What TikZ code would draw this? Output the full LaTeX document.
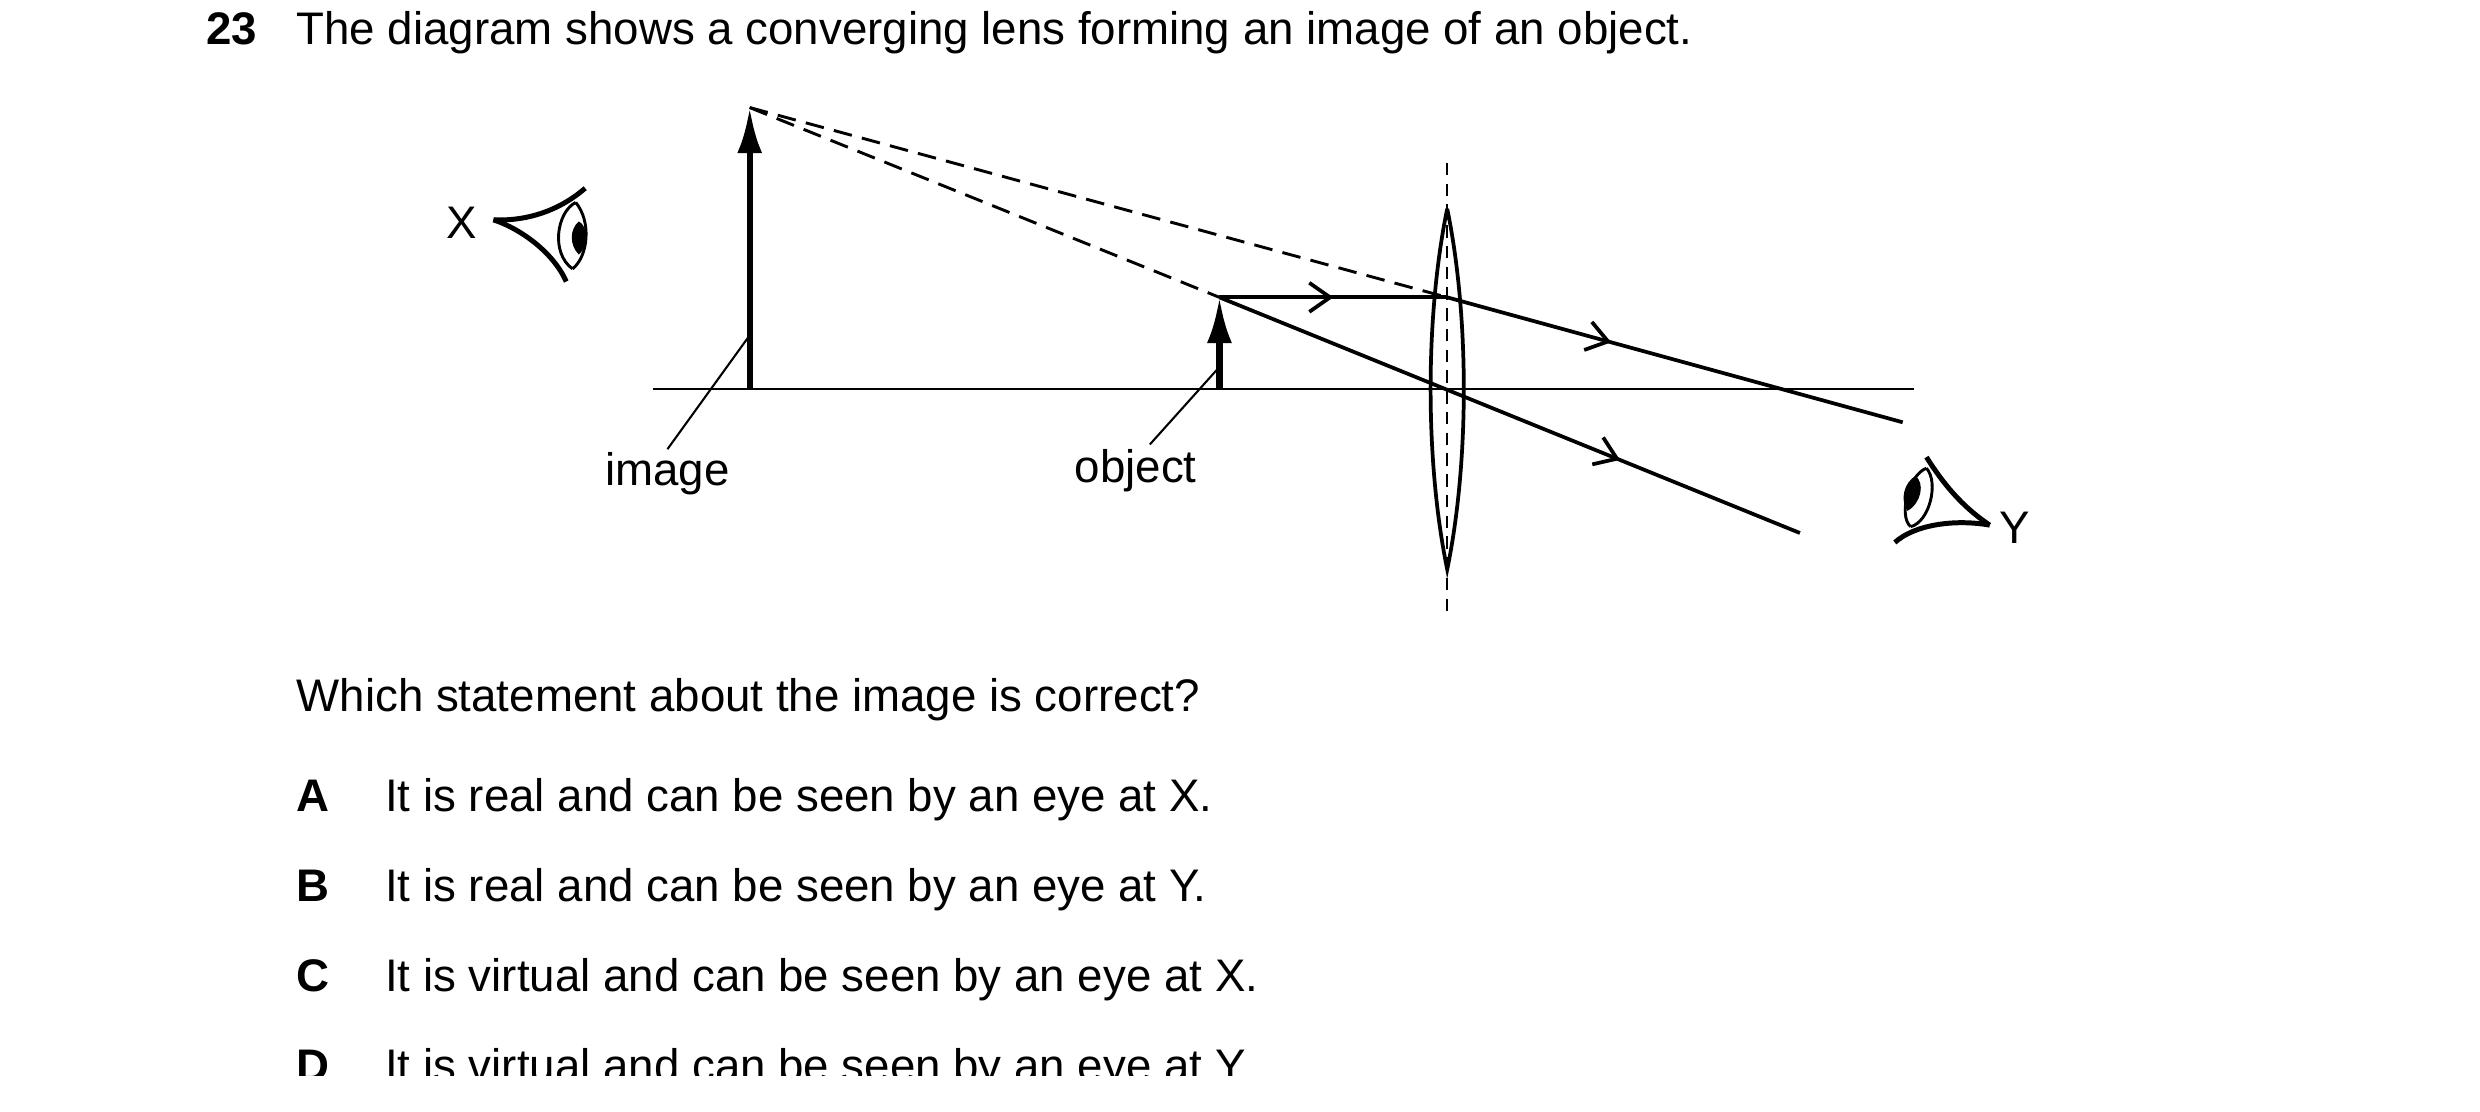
\documentclass[tikz,border=0pt]{standalone}
\usepackage{fontspec}
\setmainfont{Liberation Sans}
\usetikzlibrary{arrows.meta,decorations.markings}
\begin{document}
\begin{tikzpicture}[x=0.13393mm,y=-0.13393mm,
  every node/.style={font=\fontsize{11}{13}\selectfont,inner sep=0pt},
  ax/.style={line width=0.6pt},
  ray/.style={line width=0.9pt},
  dsh/.style={line width=0.7pt,dash pattern=on 4.5pt off 2.5pt},
  obj/.style={line width=1.5pt,-{Latex[length=11pt,width=6pt]}},
  mid/.style={postaction={decorate},decoration={markings,mark=at position #1 with {\arrow{Straight Barb[length=5pt,width=7pt,line width=0.9pt]}}}},
  eye/.style={line width=1.2pt}]
\useasboundingbox (0,0) rectangle (1568,703);
\begin{scope}
\clip (0,0) rectangle (1568,680);
% header
\node[anchor=base west,font=\fontsize{11}{13}\selectfont\bfseries] (n23) at (130,28) {23};
\node[anchor=base west] (title) at (187,28) {The diagram shows a converging lens forming an image of an object.};
% axis
\coordinate (axL) at (413,246); \coordinate (axR) at (1210,246);
\draw[ax] (axL) -- (axR);
% lens
\coordinate (lt) at (915,132); \coordinate (lb) at (915,360);
\draw[ray] (lt) .. controls (929,200) and (929,292) .. (lb) .. controls (901,292) and (901,200) .. (lt);
\coordinate (lct) at (915,103); \coordinate (lcb) at (915,388);
\draw[line width=0.5pt,dash pattern=on 3pt off 2pt] (lct) -- (lcb);
% arrows
\coordinate (ib) at (474,246); \coordinate (it) at (474,68);
\coordinate (ob) at (771,246); \coordinate (ot) at (771,188);
\draw[obj] (ib) -- (it);
\draw[obj] (ob) -- (ot);
% rays
\coordinate (lp) at (915,188); \coordinate (r1e) at (1203,267);
\coordinate (r2e) at (1138,337);
\draw[ray,mid=0.5] (ot) -- (lp);
\draw[ray,mid=0.36] (lp) -- (r1e);
\draw[ray,mid=0.69] (ot) -- (r2e);
\draw[dsh] (it) -- (ot);
\draw[dsh] (it) -- (lp);
% labels
\node[anchor=base] (limg) at (422,307) {image};
\node[anchor=base] (lobj) at (718,305) {object};
\draw[line width=0.5pt] (422,284) -- (474,212);
\draw[line width=0.5pt] (727,281) -- (771,232);
% eye X
\node (lx) at (292,141) {X};
\draw[eye] (312,139) .. controls (335,140) and (355,132) .. (370,119);
\draw[eye] (312,139) .. controls (330,145) and (350,160) .. (358,178);
\draw[line width=0.7pt] (364,128) .. controls (374,140) and (372,162) .. (362,170);
\draw[line width=0.7pt] (364,128) .. controls (352,134) and (348,160) .. (362,170);
\fill (366,140) .. controls (372,143) and (372,156) .. (366,161) .. controls (360,155) and (360,145) .. (366,140);
% eye Y
\node (ly) at (1274,334) {Y};
\draw[eye] (1258,332) .. controls (1240,320) and (1228,305) .. (1218,289);
\draw[eye] (1258,332) .. controls (1235,328) and (1210,332) .. (1198,343);
\draw[line width=0.7pt] (1218,296) .. controls (1207,300) and (1200,326) .. (1208,333);
\draw[line width=0.7pt] (1218,296) .. controls (1226,305) and (1220,330) .. (1208,333);
\fill (1211,301) .. controls (1217,305) and (1215,318) .. (1206,323) .. controls (1201,316) and (1204,305) .. (1211,301);
% question
\node[anchor=base west] (q) at (187,450) {Which statement about the image is correct?};
\foreach \l/\t/\y in {A/It is real and can be seen by an eye at X./513,
                      B/It is real and can be seen by an eye at Y./570,
                      C/It is virtual and can be seen by an eye at X./627,
                      D/It is virtual and can be seen by an eye at Y./684}{
  \node[anchor=base west,font=\fontsize{11}{13}\selectfont\bfseries] (opt\l) at (187,\y) {\l};
  \node[anchor=base west] (txt\l) at (243,\y) {\t};
}
\end{scope}
\end{tikzpicture}
\end{document}
